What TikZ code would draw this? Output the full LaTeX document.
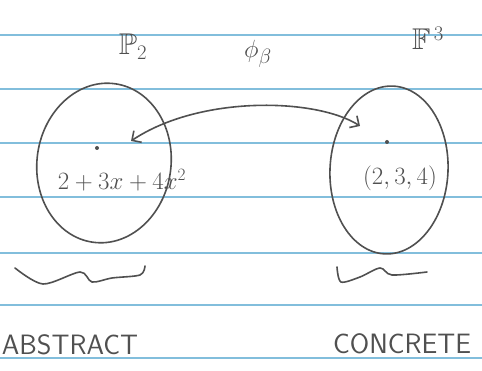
\documentclass[tikz,border=0pt]{standalone}
\usepackage{amssymb}
\usetikzlibrary{arrows.meta, positioning, shapes.geometric}
\definecolor{ruleblue}{RGB}{130,190,220}
\definecolor{ink}{RGB}{80,80,80}
\tikzset{
  ruling/.style={ruleblue, line width=1.5pt},
  pen/.style={ink, line width=1.6pt, line cap=round},
  blob/.style={pen, draw, ellipse, inner sep=0pt},
  pt/.style={circle, fill=ink, inner sep=0pt, minimum size=4pt},
  hand/.style={text=ink, font=\fontsize{26}{30}\selectfont, inner sep=0pt},
  barb/.tip={Straight Barb[length=7pt, width=14pt]},
}
\begin{document}
\begin{tikzpicture}[x=1pt, y=-1pt]
\useasboundingbox (0,0) rectangle (482,371);
% ruled paper
\foreach \ry in {35,89,143,197,253,305,358}
  \draw[ruling] (0,\ry) -- (482,\ry);
% the two sets
\node[blob, minimum width=134pt, minimum height=160pt, rotate=-8] (Pset) at (104,163) {};
\node[blob, minimum width=118pt, minimum height=168pt, rotate=-3] (Fset) at (389,170) {};
\node[hand, font=\fontsize{30}{34}\selectfont] (Plabel) at (133,47) {$\mathbb{P}_2$};
\node[hand, font=\fontsize{30}{34}\selectfont] (philabel) at (258,54) {$\phi_\beta$};
\node[hand, font=\fontsize{30}{34}\selectfont] (Flabel) at (428,38) {$\mathbb{F}^{\,3}$};
% elements
\node[pt] (pdot) at (97,148) {};
\node[pt] (fdot) at (387,142) {};
\node[hand] (poly) at (122,180) {$2+3x+4x^2$};
\node[hand] (triple) at (400,178) {$(2,3,4)$};
% the map
\coordinate (tipL) at (131,141);
\coordinate (tipR) at (360,126);
\draw[pen, barb-barb] (tipL) .. controls (200,95) and (316,98) .. (tipR);
% squiggles
\draw[pen] plot[smooth] coordinates {(15,268) (43,284) (80,272) (92,282) (112,278) (140,275) (145,266)};
\draw[pen] plot[smooth] coordinates {(337,267) (341,282) (360,277) (380,268) (392,275) (427,272)};
\node[hand, font=\sffamily\fontsize{28}{32}\selectfont] (abstr) at (70,345) {ABSTRACT};
\node[hand, font=\sffamily\fontsize{28}{32}\selectfont] (concr) at (402,344) {CONCRETE};
\end{tikzpicture}
\end{document}
